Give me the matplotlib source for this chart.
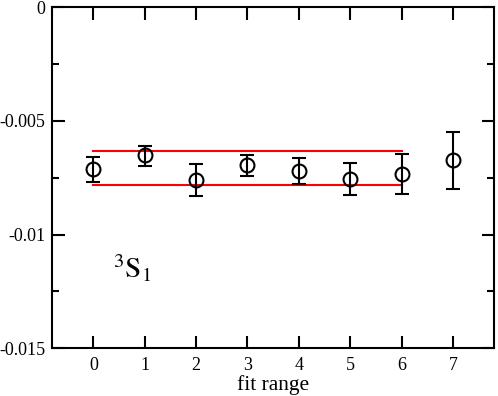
import matplotlib
matplotlib.use("Agg")
import matplotlib.pyplot as plt
import numpy as np

# fit range vs. value, with asymmetric error bars
fit_range = [0, 1, 2, 3, 4, 5, 6, 7]
value = [-0.00712, -0.00650, -0.00760, -0.00694, -0.00719, -0.00755, -0.00734, -0.00672]
err_top = [-0.00658, -0.00611, -0.00690, -0.00649, -0.00662, -0.00686, -0.00646, -0.00548]
err_bot = [-0.00768, -0.00697, -0.00829, -0.00743, -0.00777, -0.00826, -0.00822, -0.00800]

# red band from the fit
band_x = [0, 6]
band_hi = -0.00633
band_lo = -0.00784

plt.rcParams['font.family'] = ['Liberation Serif', 'DejaVu Serif']
plt.rcParams['mathtext.fontset'] = 'stix'
plt.rcParams['axes.unicode_minus'] = False

fig = plt.figure(figsize=(4.98, 3.96), dpi=100)
ax = fig.add_axes([0.105, 0.1205, 0.887, 0.8615])

v = np.array(value)
yerr = [v - np.array(err_bot), np.array(err_top) - v]

ax.plot(band_x, [band_hi, band_hi], color='red', lw=1.5, zorder=1)
ax.plot(band_x, [band_lo, band_lo], color='red', lw=1.5, zorder=1)
ax.errorbar(fit_range, value, yerr=yerr, fmt='o', mfc='none', mec='black',
            ms=10, mew=1.5, ecolor='black', elinewidth=1.5, capsize=4.7,
            capthick=1.5, zorder=2)

ax.text(0.38, -0.0119, r'$^{3}\mathrm{S}_{1}$', fontsize=21, va='baseline', ha='left')

ax.set_xlim(-0.8, 7.8)
ax.set_ylim(-0.015, 0)
ax.set_xticks(fit_range)
ax.set_yticks([-0.015, -0.01, -0.005, 0])
ax.set_yticklabels(['-0.015', '-0.01', '-0.005', '0'])
ax.set_yticks([-0.0125, -0.0075, -0.0025], minor=True)
ax.tick_params(which='both', direction='in', top=True, right=True, width=1.5, labelsize=13)
ax.tick_params(which='major', length=9)
ax.tick_params(which='minor', length=5)
ax.tick_params(axis='x', pad=6)
ax.tick_params(axis='y', pad=5)
for s in ax.spines.values():
    s.set_linewidth(1.5)
ax.set_xlabel('fit range', fontsize=15.5, labelpad=1)

fig.savefig('out.png', dpi=100)
